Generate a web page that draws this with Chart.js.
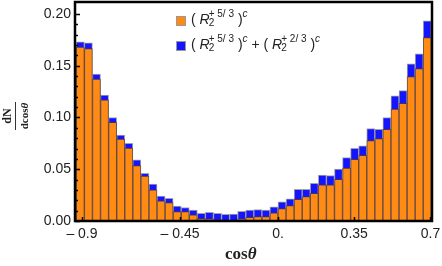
<!DOCTYPE html>
<html>
<head>
<meta charset="utf-8">
<script src="https://cdn.jsdelivr.net/npm/chart.js@4/dist/chart.umd.min.js"></script>
<style>
  html, body { margin: 0; padding: 0; background: #fff; }
  #wrap { position: relative; width: 442px; height: 266px; }
  canvas { position: absolute; left: 0; top: 0; }
  .legend { position: absolute; left: 176px; font: 14px "Liberation Sans", Arial, sans-serif; color: #222; white-space: nowrap; }
  .legend .sw { position: absolute; left: 0; top: 0; width: 8px; height: 8px; border: 1px solid #999; }
  .legend .txt { position: absolute; left: 15px; top: -5px; }
  .ss { position: relative; display: inline-block; }
  .ss .sup { font-size: 10px; position: relative; top: -7px; margin-left: -1px; }
  .ss .sub { font-size: 10px; position: absolute; left: -1px; top: 6px; }
  .pc { font-size: 10px; font-style: italic; position: relative; top: -7px; }
  #xtitle { position: absolute; left: 225px; top: 244px; font: bold 17px "Liberation Serif", "Times New Roman", serif; color: #222; }
  #ytitle { position: absolute; left: 1px; top: 99px; width: 34px; height: 34px; transform: rotate(-90deg); transform-origin: 17px 17px;
            font: bold 12px "Liberation Serif", "Times New Roman", serif; color: #222; text-align: center; line-height: 12px; }
  #ytitle .den { font-size: 11px; }
  #ytitle .bar { height: 1px; background: #333; margin: 2px 3px 2px 3px; }
</style>
</head>
<body>
<div id="wrap">
  <canvas id="chart" width="442" height="266"></canvas>
  <div class="legend" style="top:16px">
    <div class="sw" style="background:#ff8a14"></div>
    <div class="txt">( <i>R</i><span class="ss"><span class="sub">2</span><span class="sup">+ 5/ 3</span></span> )<span class="pc">c</span></div>
  </div>
  <div class="legend" style="top:41px">
    <div class="sw" style="background:#1414ff"></div>
    <div class="txt">( <i>R</i><span class="ss"><span class="sub">2</span><span class="sup">+ 5/ 3</span></span> )<span class="pc">c</span> + ( <i>R</i><span class="ss"><span class="sub">2</span><span class="sup">+ 2/ 3</span></span> )<span class="pc">c</span></div>
  </div>
  <div id="xtitle">cos<i>θ</i></div>
  <div id="ytitle"><div>dN</div><div class="bar"></div><div class="den">dcos<i>θ</i></div></div>
</div>
<script>
// histogram bins in cos(theta): 44 bins of width 1/27 starting at -25/27
const binStart = -25 / 27;
const binWidth = 1 / 27;

// (R2^{+5/3})^c  - orange bars
const orangeValues = [
    0.168, 0.1665, 0.137, 0.117, 0.0953, 0.079, 0.0705, 0.0535, 0.0435, 0.030,
    0.0195, 0.0177, 0.009, 0.009, 0.006, 0.0024, 0.0022, 0.0013, 0.001, 0.001,
    0.0022, 0.0035, 0.0042, 0.0042, 0.008, 0.012, 0.0148, 0.021, 0.0235, 0.0267,
    0.035, 0.035, 0.0403, 0.051, 0.0596, 0.0635, 0.0776, 0.0795, 0.0886, 0.108,
    0.1137, 0.1394, 0.1472, 0.1771
];

// (R2^{+5/3})^c + (R2^{+2/3})^c  - blue bars (total)
const blueValues = [
    0.173, 0.172, 0.142, 0.1217, 0.0998, 0.083, 0.075, 0.059, 0.046, 0.0357,
    0.024, 0.022, 0.0145, 0.013, 0.0105, 0.0074, 0.0084, 0.0074, 0.0065, 0.0066,
    0.0093, 0.0105, 0.011, 0.0106, 0.0138, 0.0185, 0.0215, 0.0306, 0.0306, 0.0364,
    0.0444, 0.0438, 0.0502, 0.0612, 0.0702, 0.0725, 0.0892, 0.0886, 0.0998, 0.1208,
    0.1259, 0.1517, 0.1614, 0.1932
];

const xTickValues = [-0.9, -0.45, 0, 0.35, 0.7];
const xTickLabels = ['\u2013 0.9', '\u2013 0.45', '0.', '0.35', '0.7'];
const yTickValues = [0, 0.05, 0.10, 0.15, 0.20];

const binCenters = orangeValues.map((_, i) => binStart + (i + 0.5) * binWidth);

// frame + inward ticks like Mathematica
const framePlugin = {
    id: 'frame',
    afterDatasetsDraw(chart) {
        const { ctx, chartArea: a, scales } = chart;
        ctx.save();
        ctx.strokeStyle = '#000';
        ctx.lineWidth = 1.5;
        ctx.beginPath();
        for (let v = 0; v <= 0.2001; v += 0.01) {
            const y = Math.round(scales.y.getPixelForValue(v)) + 0.5;
            const major = Math.abs(v / 0.05 - Math.round(v / 0.05)) < 1e-6;
            ctx.moveTo(a.left, y);
            ctx.lineTo(a.left + (major ? 5 : 3), y);
        }
        xTickValues.forEach(v => {
            const x = Math.round(scales.x.getPixelForValue(v)) + 0.5;
            ctx.moveTo(x, a.bottom);
            ctx.lineTo(x, a.bottom - 4);
        });
        ctx.stroke();
        ctx.lineWidth = 2.5;
        ctx.strokeRect(a.left, a.top, a.right - a.left, a.bottom - a.top);
        ctx.restore();
    }
};

const ctx = document.getElementById('chart').getContext('2d');
new Chart(ctx, {
    type: 'bar',
    data: {
        datasets: [{
            label: 'orange',
            data: binCenters.map((x, i) => ({ x: x, y: orangeValues[i] })),
            backgroundColor: '#ff8a14',
            borderColor: 'rgba(90,60,35,0.75)',
            borderWidth: 1,
            grouped: false,
            barPercentage: 1,
            categoryPercentage: 1
        }, {
            label: 'blue',
            data: binCenters.map((x, i) => ({ x: x, y: blueValues[i] })),
            backgroundColor: '#1414ff',
            borderColor: 'rgba(140,140,140,0.8)',
            borderWidth: 1,
            grouped: false,
            barPercentage: 1,
            categoryPercentage: 1
        }]
    },
    options: {
        responsive: false,
        animation: false,
        layout: { padding: { top: 2, right: 10, bottom: 0, left: 0 } },
        plugins: { legend: { display: false }, tooltip: { enabled: false } },
        scales: {
            x: {
                type: 'linear',
                offset: false,
                min: -0.932,
                max: 0.707,
                grid: { display: false, drawTicks: false, offset: false },
                border: { display: false },
                afterBuildTicks: scale => { scale.ticks = xTickValues.map(v => ({ value: v })); },
                afterFit: scale => { scale.height = 45; scale.paddingLeft = 0; scale.paddingRight = 0; },
                ticks: {
                    autoSkip: false,
                    maxRotation: 0,
                    padding: 5,
                    color: '#222',
                    font: { family: 'Liberation Sans', size: 14 },
                    callback: (v, i) => xTickLabels[i]
                }
            },
            y: {
                min: 0,
                max: 0.2115,
                grid: { display: false, drawTicks: false },
                border: { display: false },
                afterBuildTicks: scale => { scale.ticks = yTickValues.map(v => ({ value: v })); },
                afterFit: scale => { scale.width = 75; scale.paddingTop = 0; scale.paddingBottom = 0; },
                ticks: {
                    padding: 4,
                    color: '#222',
                    font: { family: 'Liberation Sans', size: 14 },
                    callback: v => v.toFixed(2)
                }
            }
        }
    },
    plugins: [framePlugin]
});
</script>
</body>
</html>
